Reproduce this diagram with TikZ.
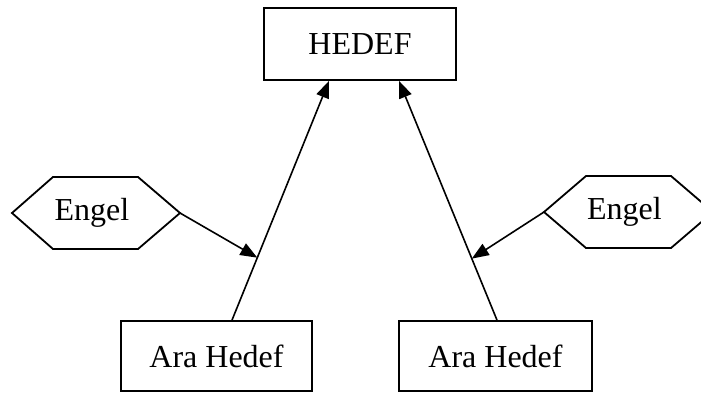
\documentclass[tikz,border=0pt]{standalone}
\usepackage{fontspec}
\setmainfont{Liberation Serif}
\usetikzlibrary{arrows.meta,calc}
\begin{document}
\begin{tikzpicture}[x=1pt,y=-1pt,
  box/.style={draw,line width=1.8pt,inner sep=0pt,font=\fontsize{32}{38}\selectfont},
  label/.style={inner sep=0pt,font=\fontsize{32}{38}\selectfont},
  hexline/.style={draw,line width=1.8pt,line join=miter},
  link/.style={line width=1.6pt,-{Triangle[length=17pt,width=13pt]}}]
\useasboundingbox (0,0) rectangle (701,392);

% goal and sub-goal boxes
\node[box,minimum width=192pt,minimum height=72pt] (hedef) at (360,44) {HEDEF};
\node[box,minimum width=191pt,minimum height=70pt] (ara1) at (216.5,356) {Ara Hedef};
\node[box,minimum width=193pt,minimum height=70pt] (ara2) at (495.5,356) {Ara Hedef};

% obstacle hexagons
\coordinate (h1) at (96,213);
\draw[hexline] (h1) ++(-84,0) -- ++(41,-36) -- ++(85,0) -- ++(42,36)
  coordinate (h1tip) -- ++(-42,36) -- ++(-85,0) -- cycle;
\node[label] (engel1) at (92,213) {Engel};

\coordinate (h2) at (628.5,212);
\draw[hexline] (h2) ++(-84.5,0) coordinate (h2tip) -- ++(42,-36) -- ++(85,0)
  -- ++(42,36) -- ++(-42,36) -- ++(-85,0) -- cycle;
\node[label] (engel2) at (624.5,212) {Engel};

% paths from sub-goals to the goal
\coordinate (s1) at ([xshift=15.5pt]ara1.north);
\coordinate (t1) at ([xshift=-31pt]hedef.south);
\coordinate (s2) at ([xshift=1.5pt]ara2.north);
\coordinate (t2) at ([xshift=39pt]hedef.south);
\draw[link] (s1) -- (t1);
\draw[link] (s2) -- (t2);

% obstacles pressing on the paths
\draw[link] (h1tip) -- ($(s1)!0.261!(t1)$);
\draw[link] (h2tip) -- ($(s2)!0.257!(t2)$);
\end{tikzpicture}
\end{document}
